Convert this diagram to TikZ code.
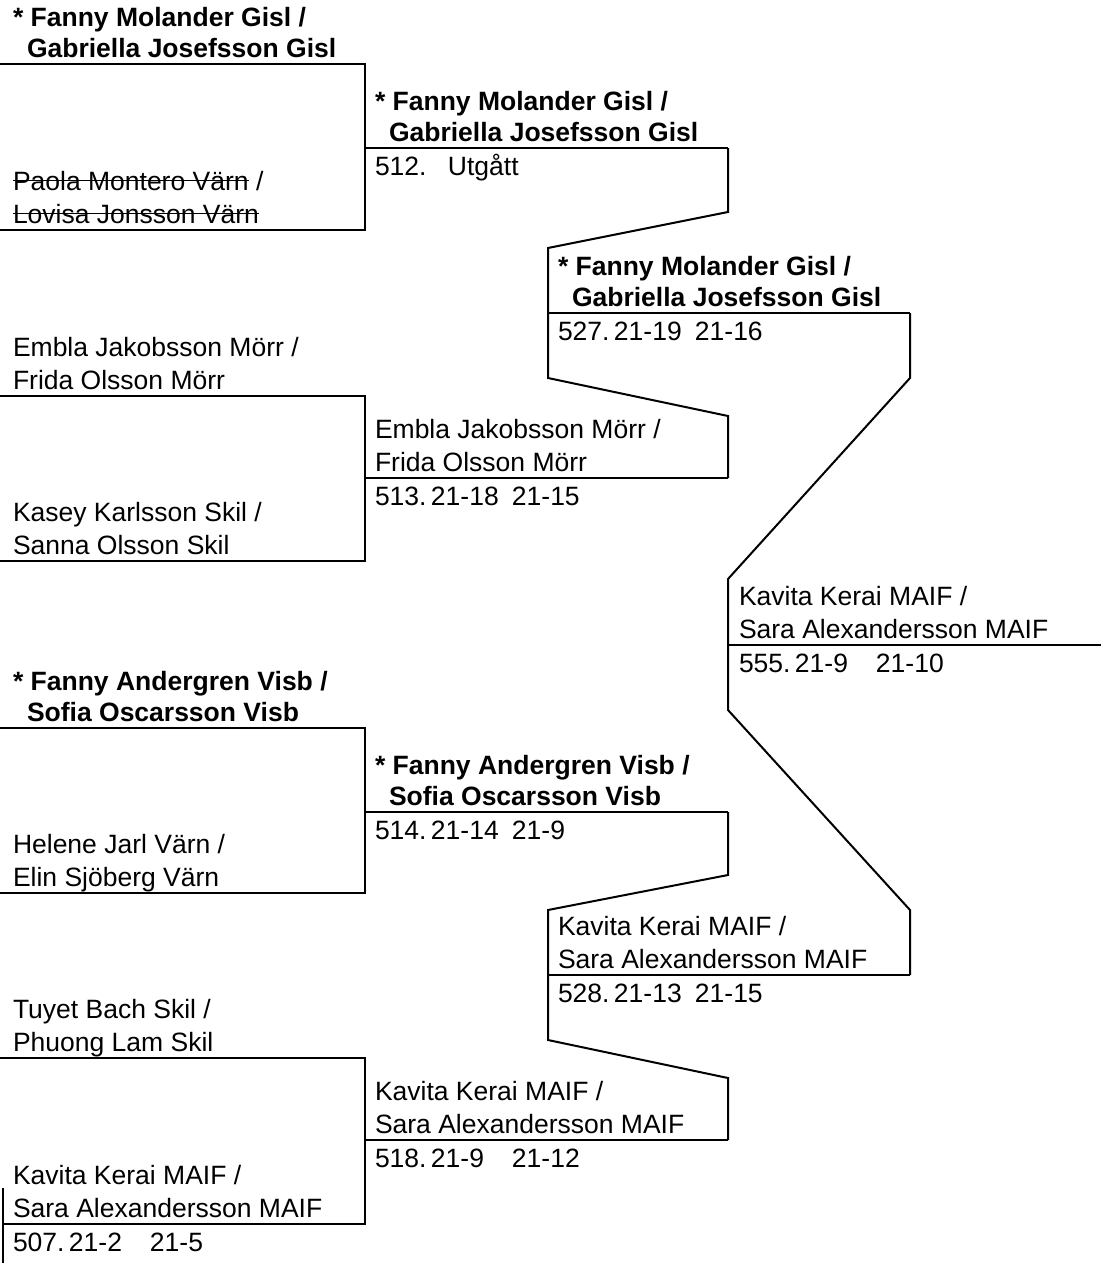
\documentclass[tikz,border=0pt]{standalone}
\usepackage{fontspec}
\setmainfont{Liberation Sans}

\newcommand\res[3]{\makebox[56pt][l]{#1.}\makebox[81pt][l]{#2}#3}
\newcommand\struck[1]{\setbox0\hbox{#1}\rlap{\rule[0.33em]{\wd0}{1.6pt}}\box0\relax}

\begin{document}
\begin{tikzpicture}[
            x=1pt, y=-1pt,
            line width=2pt,
            every node/.style={inner sep=0pt, font=\fontsize{26.5}{33}\selectfont}
        ]

        % Define styles for nodes
        \tikzset{
            pair/.style={anchor=south west, align=left, text depth=0pt},
            won/.style={pair, font=\fontsize{26.5}{30.5}\selectfont\bfseries},
            result/.style={anchor=base west}
        }

        \useasboundingbox (0,0) rectangle (1101,1263);

        % Round 1: lines of the pairs
        \coordinate (pa) at (0,64);    \coordinate (qa) at (365,64);
        \coordinate (pb) at (0,230);   \coordinate (qb) at (365,230);
        \coordinate (pc) at (0,396);   \coordinate (qc) at (365,396);
        \coordinate (pd) at (0,561);   \coordinate (qd) at (365,561);
        \coordinate (pe) at (0,728);   \coordinate (qe) at (365,728);
        \coordinate (pf) at (0,893);   \coordinate (qf) at (365,893);
        \coordinate (pg) at (0,1058);  \coordinate (qg) at (365,1058);
        \coordinate (ph) at (3,1224);  \coordinate (qh) at (365,1224);
        \coordinate (ph0) at (3,1188); \coordinate (ph1) at (3,1263);

        % Round 2 and later: match lines
        \coordinate (m512) at (365,148);  \coordinate (n512) at (728,148);
        \coordinate (m513) at (365,478);  \coordinate (n513) at (728,478);
        \coordinate (m514) at (365,812);  \coordinate (n514) at (728,812);
        \coordinate (m518) at (365,1140); \coordinate (n518) at (728,1140);
        \coordinate (m527) at (548,313);  \coordinate (n527) at (910,313);
        \coordinate (m528) at (548,975);  \coordinate (n528) at (910,975);
        \coordinate (m555) at (728,645);  \coordinate (n555) at (1101,645);

        % Brackets of round 1
        \draw (pa) -- (qa) -- (qb) -- (pb);
        \draw (pc) -- (qc) -- (qd) -- (pd);
        \draw (pe) -- (qe) -- (qf) -- (pf);
        \draw (pg) -- (qg) -- (qh) -- (ph);
        \draw (ph0) -- (ph1);
        \draw (m512) -- (n512);
        \draw (m513) -- (n513);
        \draw (m514) -- (n514);
        \draw (m518) -- (n518);

        % Brackets of round 2
        \draw (n512) -- ++(0,64) -- ++(-180,36) -- ++(0,130) -- ++(180,38) -- (n513);
        \draw (n514) -- ++(0,63) -- ++(-180,35) -- ++(0,130) -- ++(180,38) -- (n518);
        \draw (m527) -- (n527);
        \draw (m528) -- (n528);

        % Bracket of round 3
        \draw (n527) -- ++(0,65) -- ++(-182,201) -- ++(0,131) -- ++(182,200) -- (n528);
        \draw (m555) -- (n555);

        % Round 1 pairs
        \node[won] (ta) at (12,58) {* Fanny Molander Gisl /\\\hspace*{14pt}Gabriella Josefsson Gisl};
        \node[pair] (tb) at (12,224) {\struck{Paola Montero Värn} /\\\struck{Lovisa Jonsson Värn}};
        \node[pair] (tc) at (12,390) {Embla Jakobsson Mörr /\\Frida Olsson Mörr};
        \node[pair] (td) at (12,555) {Kasey Karlsson Skil /\\Sanna Olsson Skil};
        \node[won] (te) at (12,722) {* Fanny Andergren Visb /\\\hspace*{14pt}Sofia Oscarsson Visb};
        \node[pair] (tf) at (12,887) {Helene Jarl Värn /\\Elin Sjöberg Värn};
        \node[pair] (tg) at (12,1052) {Tuyet Bach Skil /\\Phuong Lam Skil};
        \node[pair] (th) at (12,1218) {Kavita Kerai MAIF /\\Sara Alexandersson MAIF};
        \node[result] (s507) at (12,1251) {\res{507}{21-2}{21-5}};

        % Round 2 winners
        \node[won] (w512) at (374,142) {* Fanny Molander Gisl /\\\hspace*{14pt}Gabriella Josefsson Gisl};
        \node[result] (s512) at (374,175) {\makebox[73pt][l]{512.}Utgått};
        \node[pair] (w513) at (374,472) {Embla Jakobsson Mörr /\\Frida Olsson Mörr};
        \node[result] (s513) at (374,505) {\res{513}{21-18}{21-15}};
        \node[won] (w514) at (374,806) {* Fanny Andergren Visb /\\\hspace*{14pt}Sofia Oscarsson Visb};
        \node[result] (s514) at (374,839) {\res{514}{21-14}{21-9}};
        \node[pair] (w518) at (374,1134) {Kavita Kerai MAIF /\\Sara Alexandersson MAIF};
        \node[result] (s518) at (374,1167) {\res{518}{21-9}{21-12}};

        % Round 3 winners
        \node[won] (w527) at (557,307) {* Fanny Molander Gisl /\\\hspace*{14pt}Gabriella Josefsson Gisl};
        \node[result] (s527) at (557,340) {\res{527}{21-19}{21-16}};
        \node[pair] (w528) at (557,969) {Kavita Kerai MAIF /\\Sara Alexandersson MAIF};
        \node[result] (s528) at (557,1002) {\res{528}{21-13}{21-15}};

        % Final
        \node[pair] (w555) at (738,639) {Kavita Kerai MAIF /\\Sara Alexandersson MAIF};
        \node[result] (s555) at (738,672) {\res{555}{21-9}{21-10}};

        \end{tikzpicture}
\end{document}
